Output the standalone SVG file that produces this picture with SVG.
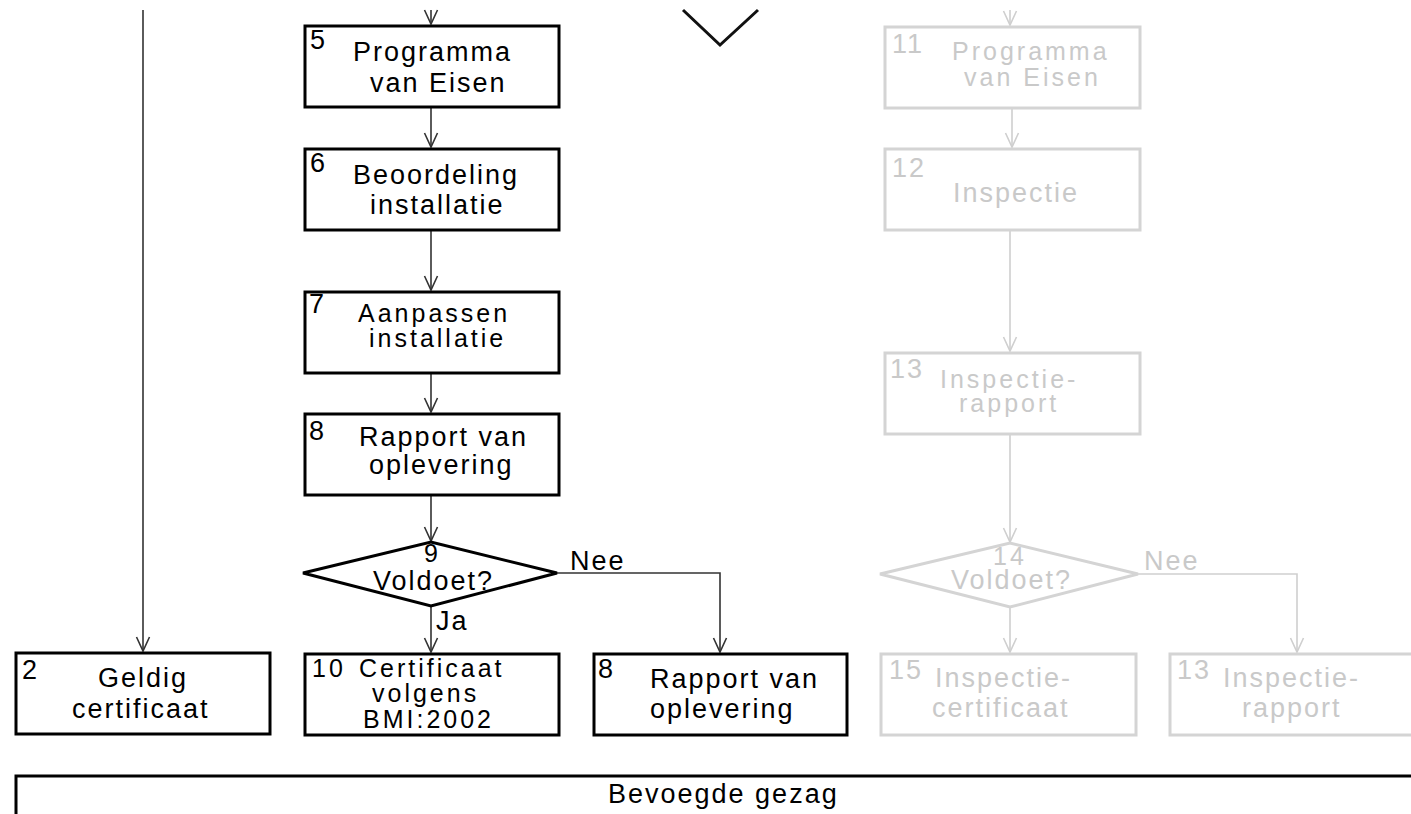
<svg xmlns="http://www.w3.org/2000/svg" width="1411" height="814" viewBox="0 0 1411 814">
<defs>
<style>
.box{fill:#fff;stroke:#000;stroke-width:3}
.gbox{fill:#fff;stroke:#d4d4d4;stroke-width:3}
.t{font-family:"Liberation Sans",Arial,sans-serif;font-size:27px;letter-spacing:2px;fill:#000}
.s{font-size:25px;letter-spacing:3px}
.g{fill:#c9c9c9}
.n{letter-spacing:0}
.c{fill:none;stroke:#333;stroke-width:1.6}
.gc{fill:none;stroke:#cfcfcf;stroke-width:1.6}
</style>
<marker id="ah" markerUnits="userSpaceOnUse" viewBox="-16 -8 18 16" refX="0" refY="0" markerWidth="18" markerHeight="16" orient="auto" overflow="visible">
<path d="M-14,-6.5 L0,0 L-14,6.5" fill="none" stroke="#333" stroke-width="1.6"/>
</marker>
<marker id="gah" markerUnits="userSpaceOnUse" viewBox="-16 -8 18 16" refX="0" refY="0" markerWidth="18" markerHeight="16" orient="auto" overflow="visible">
<path d="M-14,-6.5 L0,0 L-14,6.5" fill="none" stroke="#cfcfcf" stroke-width="1.6"/>
</marker>
</defs>
<rect width="1411" height="814" fill="#fff"/>

<g id="connectors">
<line class="c" x1="143" y1="10" x2="143" y2="651" marker-end="url(#ah)"/>
<line class="c" x1="431" y1="10" x2="431" y2="24" marker-end="url(#ah)"/>
<line class="c" x1="431" y1="108" x2="431" y2="147" marker-end="url(#ah)"/>
<line class="c" x1="431" y1="230" x2="431" y2="290" marker-end="url(#ah)"/>
<line class="c" x1="431" y1="373" x2="431" y2="412" marker-end="url(#ah)"/>
<line class="c" x1="431" y1="495" x2="431" y2="541" marker-end="url(#ah)"/>
<line class="c" x1="431" y1="606" x2="431" y2="652" marker-end="url(#ah)"/>
<polyline class="c" points="557,573 720,573 720,652" marker-end="url(#ah)"/>
<line class="gc" x1="1010" y1="10" x2="1010" y2="25" marker-end="url(#gah)"/>
<line class="gc" x1="1012" y1="109" x2="1012" y2="147" marker-end="url(#gah)"/>
<line class="gc" x1="1010" y1="231" x2="1010" y2="351" marker-end="url(#gah)"/>
<line class="gc" x1="1010" y1="435" x2="1010" y2="542" marker-end="url(#gah)"/>
<line class="gc" x1="1010" y1="607" x2="1010" y2="652" marker-end="url(#gah)"/>
<polyline class="gc" points="1138,574 1297,574 1297,652" marker-end="url(#gah)"/>
<text class="t" x="436" y="630">Ja</text>
<text class="t" x="570" y="570">Nee</text>
<text class="t g" x="1144" y="570">Nee</text>
</g>

<g id="top-shape">
<polyline points="683,10 720,45 758,10" fill="none" stroke="#111" stroke-width="3"/>
</g>

<g id="n5">
<rect class="box" x="305" y="26" width="254" height="81"/>
<text class="t" x="310" y="49">5</text>
<text class="t" x="353" y="61">Programma</text>
<text class="t" x="370" y="92">van Eisen</text>
</g>
<g id="n6">
<rect class="box" x="305" y="149" width="254" height="81"/>
<text class="t" x="310" y="172">6</text>
<text class="t" x="353" y="184">Beoordeling</text>
<text class="t" x="370" y="214">installatie</text>
</g>
<g id="n7">
<rect class="box" x="305" y="292" width="254" height="81"/>
<text class="t" x="309" y="313">7</text>
<text class="t s" x="358" y="322">Aanpassen</text>
<text class="t s" x="369" y="347">installatie</text>
</g>
<g id="n8">
<rect class="box" x="305" y="414" width="254" height="81"/>
<text class="t" x="309" y="440">8</text>
<text class="t" x="359" y="446">Rapport van</text>
<text class="t" x="369" y="474">oplevering</text>
</g>
<g id="n9">
<polygon class="box" points="303,573 431,542 557,573 431,606"/>
<text class="t s n" x="431" y="562" text-anchor="middle">9</text>
<text class="t" x="373" y="590">Voldoet?</text>
</g>
<g id="n2">
<rect class="box" x="16" y="653" width="254" height="81"/>
<text class="t" x="22" y="679">2</text>
<text class="t" x="98" y="687">Geldig</text>
<text class="t" x="72" y="718">certificaat</text>
</g>
<g id="n10">
<rect class="box" x="305" y="654" width="254" height="81"/>
<text class="t s" x="312" y="677">10</text>
<text class="t s" x="359" y="677">Certificaat</text>
<text class="t s" x="372" y="702">volgens</text>
<text class="t s" x="363" y="728">BMI:2002</text>
</g>
<g id="n8b">
<rect class="box" x="594" y="654" width="253" height="81"/>
<text class="t" x="598" y="678">8</text>
<text class="t" x="650" y="688">Rapport van</text>
<text class="t" x="650" y="718">oplevering</text>
</g>
<g id="bevoegd">
<rect class="box" x="16" y="776" width="1420" height="60"/>
<text class="t" x="608" y="803">Bevoegde gezag</text>
</g>

<g id="n11">
<rect class="gbox" x="885" y="27" width="255" height="81"/>
<text class="t g" x="892" y="53">11</text>
<text class="t g s" x="952" y="60">Programma</text>
<text class="t g s" x="964" y="86">van Eisen</text>
</g>
<g id="n12">
<rect class="gbox" x="885" y="149" width="255" height="81"/>
<text class="t g" x="892" y="177">12</text>
<text class="t g" x="953" y="202">Inspectie</text>
</g>
<g id="n13">
<rect class="gbox" x="885" y="353" width="255" height="81"/>
<text class="t g" x="890" y="378">13</text>
<text class="t g s" x="940" y="388">Inspectie-</text>
<text class="t g s" x="959" y="412">rapport</text>
</g>
<g id="n14">
<polygon class="gbox" points="880,574 1010,543 1138,574 1010,607"/>
<text class="t g s" x="1010" y="565" text-anchor="middle">14</text>
<text class="t g" x="951" y="589">Voldoet?</text>
</g>
<g id="n15">
<rect class="gbox" x="881" y="654" width="255" height="81"/>
<text class="t g" x="889" y="679">15</text>
<text class="t g" x="935" y="687">Inspectie-</text>
<text class="t g" x="932" y="717">certificaat</text>
</g>
<g id="n13b">
<rect class="gbox" x="1170" y="654" width="255" height="81"/>
<text class="t g" x="1177" y="679">13</text>
<text class="t g" x="1223" y="687">Inspectie-</text>
<text class="t g" x="1242" y="717">rapport</text>
</g>
</svg>
